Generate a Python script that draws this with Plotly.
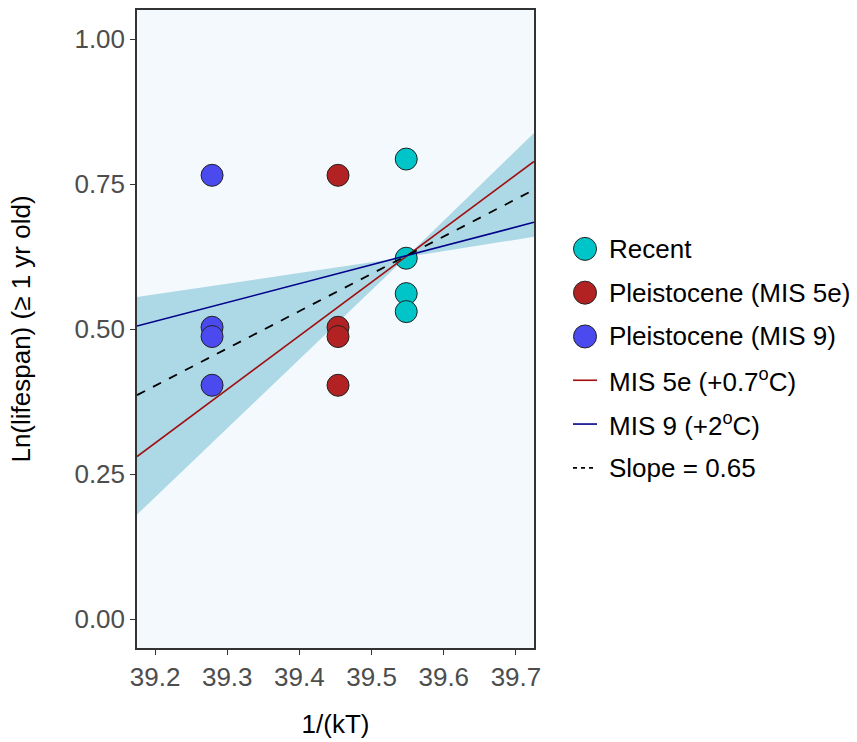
import plotly.graph_objects as go

# ---- data ----
recent_x = [39.548, 39.548, 39.548, 39.548]
recent_y = [0.793, 0.622, 0.561, 0.530]
mis5e_x = [39.4535, 39.4535, 39.4535, 39.4535]
mis5e_y = [0.765, 0.503, 0.487, 0.403]
mis9_x = [39.279, 39.279, 39.279, 39.279]
mis9_y = [0.765, 0.503, 0.487, 0.403]

line_x = [39.175, 39.725]
mis5e_line_y = [0.280, 0.789]
mis9_line_y = [0.505, 0.684]
slope_line_y = [0.386, 0.740]

band_x = [39.175, 39.548, 39.725]
band_upper = [0.555, 0.624, 0.838]
band_lower = [0.180, 0.624, 0.659]

x_ticks = [39.2, 39.3, 39.4, 39.5, 39.6, 39.7]
y_ticks = [0.00, 0.25, 0.50, 0.75, 1.00]

legend_names = ["Recent", "Pleistocene (MIS 5e)", "Pleistocene (MIS 9)",
                "MIS 5e (+0.7<sup>o</sup>C)", "MIS 9 (+2<sup>o</sup>C)", "Slope = 0.65"]

COL_RECENT, COL_5E, COL_9 = "#00C5C8", "#B22222", "#4A4AEE"
LINE_5E, LINE_9, LINE_SLOPE = "#A00F0F", "#00008B", "black"

FONT = "Liberation Sans, Arial, sans-serif"
FS = 26

# plot area geometry (pixels)
W, H = 857, 742
ML, MR, MT, MB = 137, 323, 8, 93
PW, PH = W - ML - MR, H - MT - MB

def px(xp):
    return (xp - ML) / PW

def py(yp):
    return (H - MB - yp) / PH

fig = go.Figure()

# ribbon
fig.add_trace(go.Scatter(
    x=band_x + band_x[::-1], y=band_upper + band_lower[::-1],
    fill="toself", fillcolor="#ADD8E6", line=dict(width=0),
    mode="lines", showlegend=False, hoverinfo="skip"))

mk = dict(size=22, line=dict(color="#222222", width=1))
fig.add_trace(go.Scatter(x=recent_x, y=recent_y, mode="markers", name="Recent",
                         marker=dict(color=COL_RECENT, **mk), showlegend=False))
fig.add_trace(go.Scatter(x=mis5e_x, y=mis5e_y, mode="markers", name="Pleistocene (MIS 5e)",
                         marker=dict(color=COL_5E, **mk), showlegend=False))
fig.add_trace(go.Scatter(x=mis9_x, y=mis9_y, mode="markers", name="Pleistocene (MIS 9)",
                         marker=dict(color=COL_9, **mk), showlegend=False))

fig.add_trace(go.Scatter(x=line_x, y=mis5e_line_y, mode="lines", name="MIS 5e (+0.7°C)",
                         line=dict(color=LINE_5E, width=1.6), showlegend=False))
fig.add_trace(go.Scatter(x=line_x, y=mis9_line_y, mode="lines", name="MIS 9 (+2°C)",
                         line=dict(color=LINE_9, width=1.6), showlegend=False))
fig.add_trace(go.Scatter(x=line_x, y=slope_line_y, mode="lines", name="Slope = 0.65",
                         line=dict(color=LINE_SLOPE, width=1.8, dash="dash"), showlegend=False))

# ---- manual legend (larger keys, like the reference) ----
leg_y0, leg_dy = 248, 44
sym_x, text_x = 585, 607
shapes, annotations = [], []
for i, name in enumerate(legend_names):
    yc = leg_y0 + i * leg_dy
    if i < 3:
        col = [COL_RECENT, COL_5E, COL_9][i]
        shapes.append(dict(type="circle", xref="paper", yref="paper",
                           xsizemode="pixel", ysizemode="pixel",
                           xanchor=px(sym_x), yanchor=py(yc),
                           x0=-11.5, x1=11.5, y0=-11.5, y1=11.5,
                           fillcolor=col, line=dict(color="#222222", width=1)))
    else:
        col = [LINE_5E, LINE_9, LINE_SLOPE][i - 3]
        shapes.append(dict(type="line", xref="paper", yref="paper",
                           x0=px(sym_x - 12), x1=px(sym_x + 12), y0=py(yc), y1=py(yc),
                           line=dict(color=col, width=1.6,
                                     dash="4px,4px" if i == 5 else "solid")))
    annotations.append(dict(text=name, xref="paper", yref="paper", x=px(text_x), y=py(yc),
                            xanchor="left", yanchor="middle", showarrow=False,
                            font=dict(family=FONT, size=FS, color="black")))

axis_common = dict(
    showline=True, linecolor="#333333", linewidth=1.5, mirror=True,
    ticks="outside", ticklen=5, tickcolor="#333333", tickwidth=1.2,
    showgrid=False, zeroline=False,
    tickfont=dict(family=FONT, size=FS, color="#4D4D4D"),
)

fig.update_layout(
    width=W, height=H,
    margin=dict(l=ML, r=MR, t=MT, b=MB),
    paper_bgcolor="white", plot_bgcolor="#F3F9FD",
    font=dict(family=FONT, size=FS, color="black"),
    showlegend=False,
    xaxis=dict(range=[39.175, 39.725], tickvals=x_ticks,
               ticktext=[f"{v:.1f}" for v in x_ticks],
               title=dict(text="1/(kT)", font=dict(family=FONT, size=FS, color="black"), standoff=24),
               **axis_common),
    yaxis=dict(range=[-0.05, 1.05], tickvals=y_ticks,
               ticktext=[f"{v:.2f}" for v in y_ticks],
               title=dict(text="Ln(lifespan) (≥ 1 yr old)", font=dict(family=FONT, size=FS, color="black"), standoff=36),
               **axis_common),
    shapes=shapes,
    annotations=annotations,
)

fig.write_html("out.html")
